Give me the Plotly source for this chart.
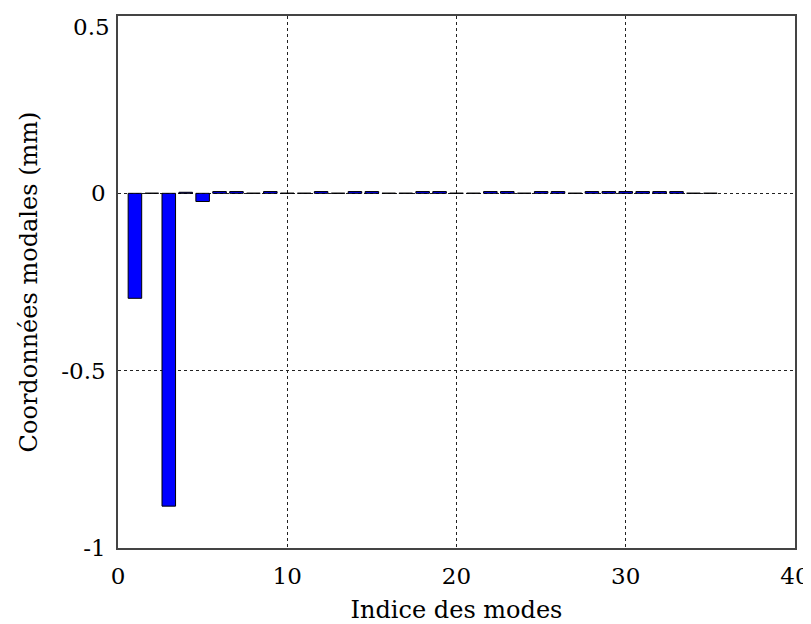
import plotly.graph_objects as go

# mode indices and modal coordinates (mm)
modes = list(range(1, 36))
coords = [
    -0.296, 0.0005, -0.882, 0.003, -0.023,
    0.005, 0.005, 0.0005, 0.005, 0.0005,
    0.0005, 0.005, 0.0005, 0.005, 0.005,
    0.0005, 0.0005, 0.005, 0.005, 0.0005,
    0.0005, 0.005, 0.005, 0.0005, 0.005,
    0.005, 0.0005, 0.005, 0.005, 0.005,
    0.005, 0.005, 0.005, 0.0005, 0.0005,
]

x_ticks = [0, 10, 20, 30, 40]
y_ticks = [-1, -0.5, 0, 0.5]
y_labels = ["-1", "-0.5", "0", ""]   # top label is placed as an annotation so it is not clipped
top_label = "0.5"

fnt = "DejaVu Serif"

fig = go.Figure()
fig.add_trace(go.Bar(
    x=modes, y=coords, width=0.8,
    marker=dict(color="#0000ff", line=dict(color="black", width=1)),
))

fig.add_annotation(
    x=0, xref="paper", y=y_ticks[-1], yref="y", text=top_label,
    showarrow=False, xanchor="right", yanchor="top", xshift=-6, yshift=4,
    font=dict(family=fnt, size=23, color="black"),
)

# page body has an 8px margin, so the figure is shifted by 8px
fig.update_layout(
    width=803, height=616,
    margin=dict(l=110, r=16, t=8, b=76),
    plot_bgcolor="white", paper_bgcolor="white",
    showlegend=False,
    font=dict(family=fnt, size=23, color="black"),
    xaxis=dict(
        range=[0, 40], tickvals=x_ticks, automargin=False,
        showgrid=True, gridcolor="#222", griddash="dot", gridwidth=1,
        zeroline=False, showline=True, linecolor="#444", linewidth=1.5, mirror=True,
        title=dict(text="Indice des modes", standoff=15, font=dict(size=24)),
        ticks="", ticklabelstandoff=7, tickfont=dict(size=23),
        ticklabeloverflow="allow",
    ),
    yaxis=dict(
        range=[-1, 0.5], tickvals=y_ticks, ticktext=y_labels, automargin=False,
        showgrid=True, gridcolor="#222", griddash="dot", gridwidth=1,
        zeroline=False, showline=True, linecolor="#444", linewidth=1.5, mirror=True,
        title=dict(text="Coordonnées modales (mm)", standoff=17, font=dict(size=24)),
        ticks="", ticklabelstandoff=6, tickfont=dict(size=23),
        ticklabeloverflow="allow",
    ),
)

fig.write_html("out.html")
